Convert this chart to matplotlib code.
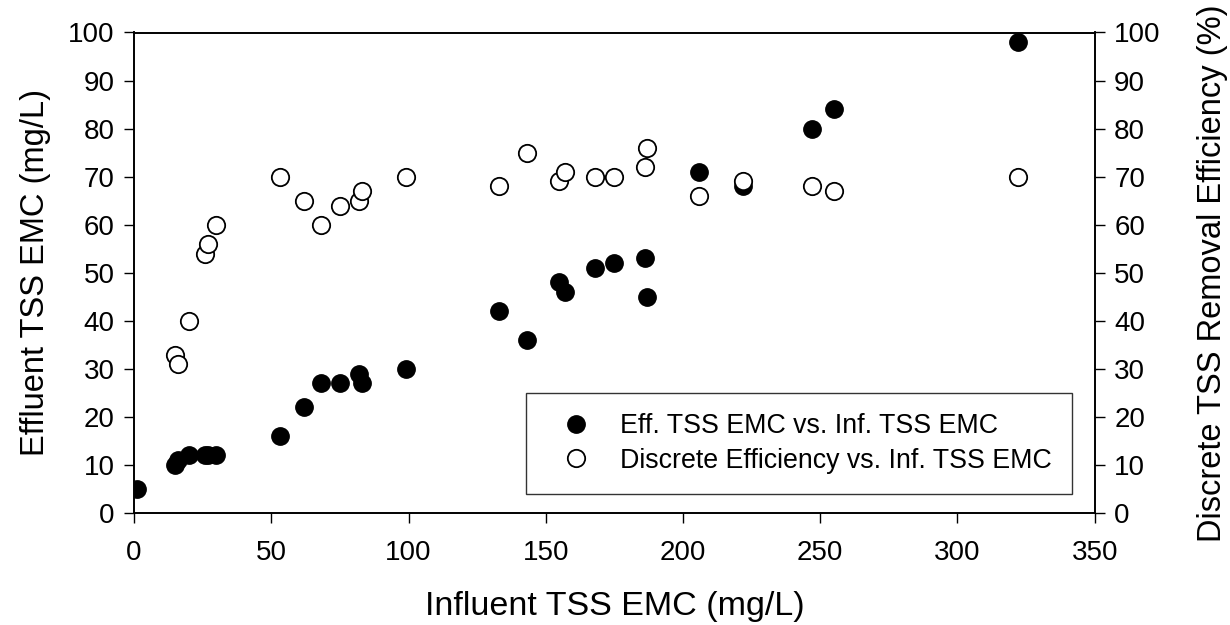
#!/usr/bin/env python

import matplotlib
matplotlib.use("Agg")
import matplotlib.pyplot as plt

plt.rcParams["font.family"] = ["Liberation Sans", "DejaVu Sans"]

# influent / effluent TSS EMC (mg/L)
inf_eff = [1, 15, 16, 20, 26, 27, 30, 53, 62, 68, 75, 82, 83, 99, 133, 143,
           155, 157, 168, 175, 186, 187, 206, 222, 247, 255, 322]
eff_tss = [5, 10, 11, 12, 12, 12, 12, 16, 22, 27, 27, 29, 27, 30, 42, 36,
           48, 46, 51, 52, 53, 45, 71, 68, 80, 84, 98]

# discrete removal efficiency (%)
inf_pct = [15, 16, 20, 26, 27, 30, 53, 62, 68, 75, 82, 83, 99, 133, 143,
           155, 157, 168, 175, 186, 187, 206, 222, 247, 255, 322]
eff_pct = [33, 31, 40, 54, 56, 60, 70, 65, 60, 64, 65, 67, 70, 68, 75,
           69, 71, 70, 70, 72, 76, 66, 69, 68, 67, 70]

fig = plt.figure(figsize=(12.3, 6.25), dpi=100)
ax = fig.add_axes([0.109, 0.179, 0.781, 0.769])
ax2 = ax.twinx()

h1, = ax.plot(inf_eff, eff_tss, "o", color="black", markersize=12.5,
              label="Eff. TSS EMC vs. Inf. TSS EMC", zorder=3)
h2, = ax2.plot(inf_pct, eff_pct, "o", markerfacecolor="white",
               markeredgecolor="black", markeredgewidth=1.3, markersize=12.5,
               label="Discrete Efficiency vs. Inf. TSS EMC")

ax.set_xlim(0, 350)
ax.set_ylim(0, 100)
ax2.set_ylim(0, 100)
ax.set_xticks(range(0, 351, 50))
ax.set_yticks(range(0, 101, 10))
ax2.set_yticks(range(0, 101, 10))

for a in (ax, ax2):
    a.tick_params(direction="out", length=7, width=1, labelsize=20, pad=7)
    for s in a.spines.values():
        s.set_linewidth(1.2)
ax.tick_params(axis="x", pad=12)

ax.set_xlabel("Influent TSS EMC (mg/L)", fontsize=24.5, labelpad=18)
ax.set_ylabel("Effluent TSS EMC (mg/L)", fontsize=23.5, labelpad=12)
ax2.set_ylabel("Discrete TSS Removal Efficiency (%)", fontsize=23.5,
               labelpad=26)

leg = ax2.legend([h1, h2], [h1.get_label(), h2.get_label()],
                 loc="lower left", bbox_to_anchor=(0.408, 0.04, 0.568, 0.21),
                 mode="expand", fontsize=19.3, frameon=True, fancybox=False,
                 edgecolor="black", markerscale=1.0, handletextpad=0.52,
                 handlelength=2.22, borderpad=0.76, labelspacing=0.3,
                 borderaxespad=0)
leg.get_frame().set_linewidth(1.0)

fig.savefig("out.png", dpi=100)
